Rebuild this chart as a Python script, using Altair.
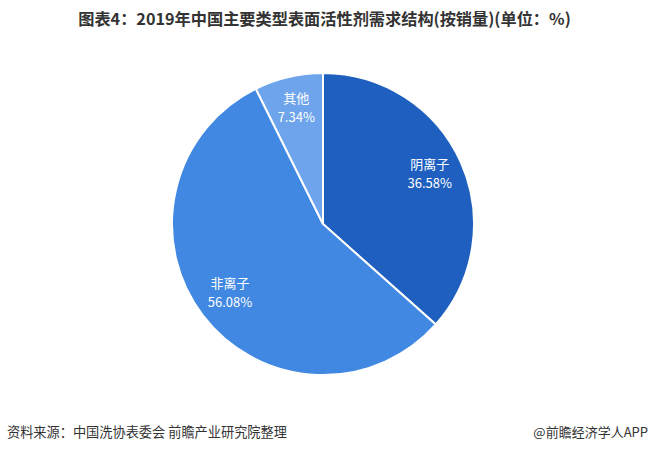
import altair as alt
import pandas as pd

categories = ["阴离子", "非离子", "其他"]
values = [36.58, 56.08, 7.34]
colors = ["#1F5FBF", "#4188E2", "#6DA4EC"]

title_text = "图表4：2019年中国主要类型表面活性剂需求结构(按销量)(单位：%)"
source_text = "资料来源：中国洗协表委会 前瞻产业研究院整理"
brand_text = "@前瞻经济学人APP"

df = pd.DataFrame({
    "cat": categories,
    "value": values,
    "idx": list(range(len(categories))),
    "label": [f"{c}\n{v:.2f}%" for c, v in zip(categories, values)],
})

CX, CY, R = 323, 224, 151

base = alt.Chart(df).encode(
    theta=alt.Theta("value:Q", stack=True),
    order=alt.Order("idx:Q"),
    x=alt.value(CX),
    y=alt.value(CY),
)

arcs = base.mark_arc(outerRadius=R, stroke="white", strokeWidth=2).encode(
    color=alt.Color("cat:N", scale=alt.Scale(domain=categories, range=colors), legend=None)
)

labels = base.mark_text(
    radius=117, dy=-11, color="white", fontSize=13, font="Noto Sans CJK SC",
    lineBreak="\n", lineHeight=19, align="center", baseline="middle"
).encode(text="label:N")

title = alt.Chart(pd.DataFrame({"t": [title_text]})).mark_text(
    fontSize=16.2, fontWeight="bold", font="Noto Sans CJK SC", color="#333333",
    align="center", baseline="middle"
).encode(x=alt.value(324.5), y=alt.value(20), text="t:N")

source = alt.Chart(pd.DataFrame({"t": [source_text]})).mark_text(
    fontSize=13.2, font="Noto Sans CJK SC", color="#333333",
    align="left", baseline="middle"
).encode(x=alt.value(7), y=alt.value(433), text="t:N")

brand = alt.Chart(pd.DataFrame({"t": [brand_text]})).mark_text(
    fontSize=13, font="Noto Sans CJK SC", color="#333333",
    align="right", baseline="middle"
).encode(x=alt.value(648), y=alt.value(433), text="t:N")

chart = alt.layer(arcs, labels, title, source, brand).properties(
    width=649, height=454, padding=0,
    autosize=alt.AutoSizeParams(type="none"),
    background="white",
).configure_view(stroke=None)

chart.save("out.html", embed_options={"renderer": "svg", "actions": False})
